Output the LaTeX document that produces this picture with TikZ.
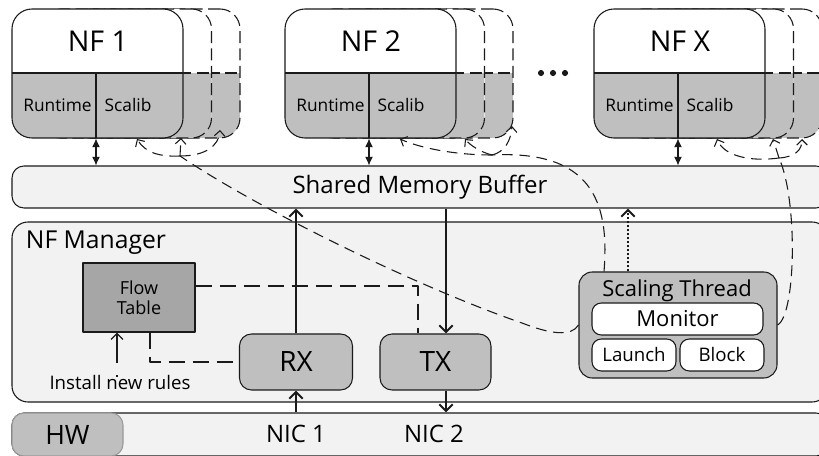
\documentclass[tikz,border=0pt]{standalone}
\usepackage{fontspec}
\setmainfont{Open Sans}
\usetikzlibrary{arrows.meta}
\definecolor{nfgray}{HTML}{BFBFBF}
\definecolor{lightbg}{HTML}{F2F2F2}
\definecolor{ftgray}{HTML}{A6A6A6}
\definecolor{ink}{HTML}{1A1A1A}
\newcommand{\fsz}[1]{\fontsize{#1}{#1}\selectfont}
\begin{document}
\begin{tikzpicture}[x=0.75pt,y=-0.75pt,line join=round,
 nfmain/.style={draw=ink,line width=0.8pt,fill=white,rounded corners=15pt,
   minimum width=128.25pt,minimum height=96.75pt,inner sep=0pt,
   path picture={
     \fill[nfgray,sharp corners] ([yshift=-48pt]path picture bounding box.north west) rectangle (path picture bounding box.south east);
     \draw[ink,line width=0.8pt,sharp corners] ([yshift=-48pt]path picture bounding box.north west) -- ([yshift=-48pt]path picture bounding box.north east);
     \draw[ink,line width=0.8pt,sharp corners] ([xshift=63pt,yshift=-48pt]path picture bounding box.north west) -- ([xshift=63pt]path picture bounding box.south west);
   }},
 nfshadow/.style={draw=ink,line width=0.8pt,dash pattern=on 9pt off 4pt,fill=white,rounded corners=15pt,
   minimum width=128.25pt,minimum height=96.75pt,inner sep=0pt,
   path picture={
     \fill[nfgray,sharp corners] ([yshift=-48pt]path picture bounding box.north west) rectangle (path picture bounding box.south east);
     \draw[ink,line width=0.8pt,sharp corners,dash pattern=on 9pt off 4pt] ([yshift=-48pt]path picture bounding box.north west) -- ([yshift=-48pt]path picture bounding box.north east);
   }},
 barbox/.style={draw=ink,line width=0.8pt,fill=lightbg,rounded corners=9pt,inner sep=0pt},
 graybox/.style={draw=ink,line width=0.8pt,fill=nfgray,rounded corners=9pt,inner sep=0pt},
 whitebox/.style={draw=ink,line width=0.8pt,fill=white,rounded corners=7pt,inner sep=0pt},
 txt/.style={inner sep=0pt},
 dbl/.style={draw=ink,line width=0.8pt,{Latex[length=6.5pt,width=6pt]}-{Latex[length=6.5pt,width=6pt]}},
 solidarrow/.style={draw=ink,line width=1.5pt,-{Straight Barb[length=5pt,width=10pt]}},
 ftdash/.style={draw=ink,line width=1.5pt,dash pattern=on 12pt off 6pt},
 instarrow/.style={draw=ink,line width=1pt,dash pattern=on 1.5pt off 9pt on 30pt,-{Straight Barb[length=4.5pt,width=9pt]}},
 dotarrow/.style={draw=ink,line width=1.5pt,dash pattern=on 1.5pt off 1.5pt,-{Straight Barb[length=5pt,width=10pt]}},
 curvedash/.style={draw=ink,line width=0.8pt,dash pattern=on 8pt off 5pt},
 cbarb/.style={curvedash,-{Straight Barb[length=4pt,width=8pt]}}
]
\clip (0,0) rectangle (819,456);

% bars
\node[barbox,minimum width=612pt,minimum height=31.5pt,font=\fsz{18pt}] (shm) at (420,187) {Shared Memory Buffer};
\node[barbox,rounded corners=12pt,minimum width=612pt,minimum height=135pt] (nfm) at (420,312) {};
\node[txt,font=\fsz{18.5pt}] (nfml) at (96,243) {NF Manager};
\node[barbox,minimum width=612pt,minimum height=32.25pt] (hwbar) at (420,434.5) {};
\node[graybox,draw=gray!80,minimum width=83.25pt,minimum height=32.25pt,font=\fsz{20pt}] (hw) at (67.5,434.5) {HW};
\node[txt,font=\fsz{18pt}] (nic1) at (296,434) {NIC 1};
\node[txt,font=\fsz{18pt}] (nic2) at (434,434) {NIC 2};

% NF instances
\foreach \n/\l/\t in {1/12/NF 1,2/285/NF 2,3/594/NF X}{
  \node[nfshadow] (nfb\n) at (\l+85.5+57,73.5) {};
  \node[nfshadow] (nfa\n) at (\l+85.5+28.5,73.5) {};
  \node[nfmain] (nf\n) at (\l+85.5,73.5) {};
  \node[txt,font=\fsz{21.5pt}] (nft\n) at (\l+86,41) {\t};
  \node[txt,font=\fsz{13pt}] (rt\n) at (\l+45.5,105) {Runtime};
  \node[txt,font=\fsz{13pt}] (sc\n) at (\l+116,105) {Scalib};
  \coordinate (d\n) at ([xshift=-1.125pt]nf\n.south);
  \draw[dbl] (d\n) -- (d\n |- shm.north);
}
\fill[ink] (541,73) circle (2.3pt) (553,73) circle (2.3pt) (565,73) circle (2.3pt);

% NF manager contents
\node[draw=ink,line width=0.8pt,fill=ftgray,minimum width=84pt,minimum height=51.75pt,align=center,
      font=\fontsize{13.5pt}{15pt}\selectfont,inner sep=0pt] (ft) at (139,297.5) {Flow\\Table};
\node[graybox,minimum width=84.75pt,minimum height=42pt,font=\fsz{21pt}] (rx) at (296,362) {RX};
\node[graybox,minimum width=83.25pt,minimum height=42pt,font=\fsz{21pt}] (tx) at (435.5,362) {TX};
\node[txt,font=\fsz{14pt}] (inst) at (120,383) {Install new rules};

\node[graybox,rounded corners=10pt,minimum width=148.5pt,minimum height=79.5pt] (st) at (678,325) {};
\node[txt,font=\fsz{16.5pt}] (stl) at (677,291) {Scaling Thread};
\node[whitebox,minimum width=128.25pt,minimum height=24pt,font=\fsz{16.5pt}] (mon) at (677.5,319) {Monitor};
\node[whitebox,minimum width=63pt,minimum height=24pt,font=\fsz{14pt}] (lau) at (634,355) {Launch};
\node[whitebox,minimum width=63pt,minimum height=24pt,font=\fsz{14pt}] (blk) at (722,355) {Block};

% solid data path
\draw[solidarrow] (rx.north) -- (rx.north |- shm.south);
\coordinate (txin) at ([xshift=7.875pt]tx.north);
\draw[solidarrow] (txin |- shm.south) -- (txin);
\draw[solidarrow] (rx.south |- hwbar.north) -- (rx.south);
\coordinate (txout) at ([xshift=7.875pt]tx.south);
\draw[solidarrow] (txout) -- (txout |- hwbar.north);

% flow table links
\coordinate (fte) at ([yshift=8.625pt]ft.east);
\coordinate (txd) at ([xshift=-13.125pt]tx.north);
\draw[ftdash] (fte) -| (txd);
\coordinate (ftb) at ([xshift=8.25pt]ft.south);
\draw[ftdash] (ftb) |- (rx.west);
\coordinate (fti) at ([xshift=-16.5pt]ft.south);
\draw[instarrow] ([yshift=-1pt]fti |- inst.north) -- (fti);

% scaling thread to buffer
\coordinate (stt) at ([xshift=-37.5pt]st.north);
\draw[dotarrow] (stt) -- (stt |- shm.south);

% scaling control curves
\coordinate (j1) at (180,156);
\coordinate (a1) at (137,139);
\coordinate (b1) at (181,138);
\coordinate (c1) at (220,130);
\coordinate (j2) at (492,155);
\coordinate (a2) at (400,139);
\coordinate (b2) at (465,139);
\coordinate (c2) at (512,126);
\coordinate (j3) at (779,158);
\coordinate (a3) at (717,139);
\coordinate (b3) at (773,139);
\coordinate (c3) at (802,139);
\coordinate (s2) at ([xshift=-55.5pt]st.north);

\draw[curvedash] (st.west) .. controls +(-7,12) and (550,334) .. (522,323) .. controls (420,288) and (260,210) .. (j1);
\draw[cbarb] (j1) .. controls (158,157) and (145,152) .. (a1);
\draw[cbarb] (j1) -- (b1);
\draw[cbarb] (j1) .. controls (205,156) and (219,146) .. (c1);

\draw[curvedash] (s2) .. controls (610,200) and (590,150) .. (j2);
\draw[cbarb] (j2) .. controls (455,155) and (420,148) .. (a2);
\draw[cbarb] (j2) .. controls (480,152) and (470,145) .. (b2);
\draw[cbarb] (j2) .. controls (505,152) and (511,140) .. (c2);

\draw[curvedash] (st.east) .. controls (796,315) and (798,200) .. (j3);
\draw[cbarb] (j3) .. controls (750,162) and (724,156) .. (a3);
\draw[cbarb] (j3) -- (b3);
\draw[cbarb] (j3) .. controls (795,157) and (802,150) .. (c3);
\end{tikzpicture}
\end{document}
